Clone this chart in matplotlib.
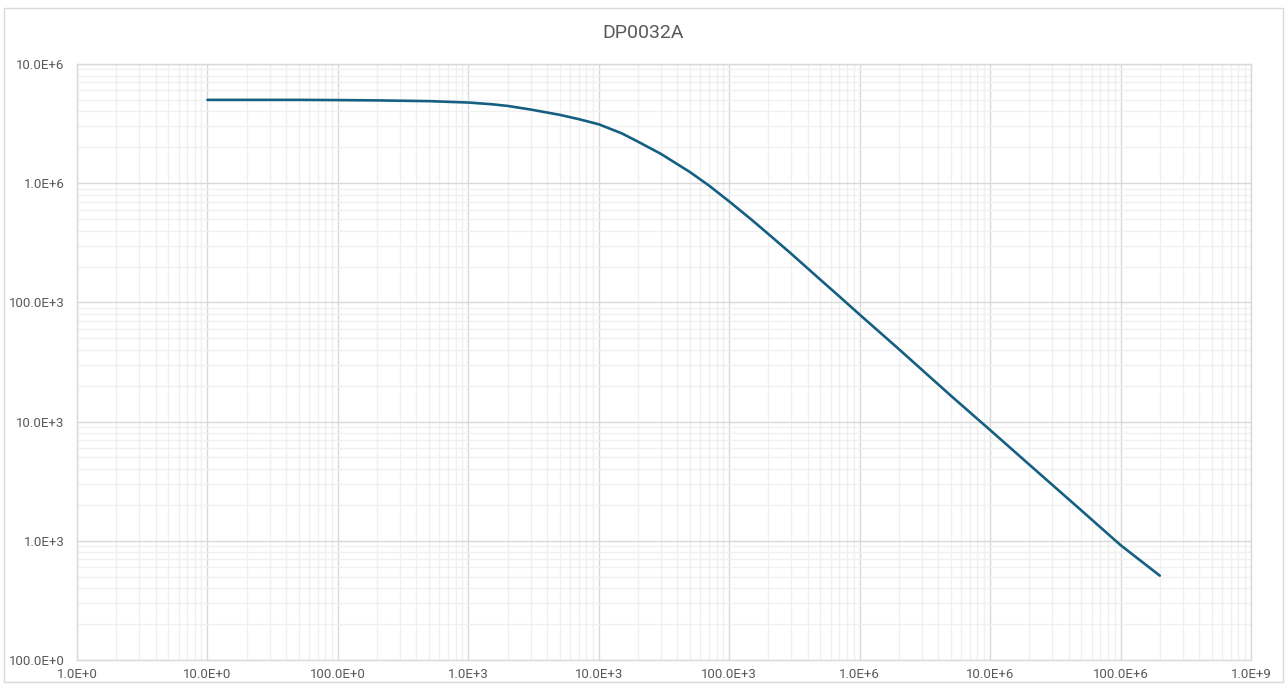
import numpy as np
import matplotlib
matplotlib.use("Agg")
import matplotlib.pyplot as plt
from matplotlib.ticker import FuncFormatter, LogLocator, NullFormatter
from matplotlib.patches import Rectangle

title = "DP0032A"
freq = [10, 20, 50, 100, 200, 500, 1e3, 1.5e3, 2e3, 3e3, 5e3, 7e3, 1e4, 1.5e4, 2e4,
        3e4, 5e4, 7e4, 1e5, 1.5e5, 2e5, 3e5, 5e5, 7e5,
        1e6, 2e6, 5e6, 1e7, 2e7, 5e7, 1e8, 2e8]
values = [5.0e6, 5.0e6, 5.0e6, 4.98e6, 4.95e6, 4.88e6, 4.75e6, 4.6e6, 4.45e6, 4.15e6,
          3.75e6, 3.45e6, 3.12e6, 2.62e6, 2.23e6, 1.76e6, 1.24e6, 9.55e5, 7.03e5, 4.89e5,
          3.74e5, 2.55e5, 1.55e5, 1.12e5,
          7.9e4, 4.05e4, 1.65e4, 8.5e3, 4.35e3, 1.8e3, 9.2e2, 5.1e2]

plt.rcParams['font.family'] = ['Roboto', 'DejaVu Sans']

def eng(v, pos=None):
    if v <= 0:
        return ""
    e = int(np.floor(np.log10(v) / 3 + 1e-9)) * 3
    m = v / 10 ** e
    return f"{m:.1f}E{e:+d}"

fig = plt.figure(figsize=(12.87, 6.90), dpi=100)
fig.patches.append(Rectangle((0.003, 0.012), 0.994, 0.976, transform=fig.transFigure,
                             fill=False, edgecolor='#d9d9d9', linewidth=1))
ax = fig.add_axes([77/1287, 1 - 660/690, (1251 - 77)/1287, (660 - 64)/690])
ax.set_xscale('log')
ax.set_yscale('log')
ax.set_xlim(1, 1e9)
ax.set_ylim(100, 1e7)
ax.plot(freq, values, color='#156082', linewidth=1.9, solid_capstyle='round',
        solid_joinstyle='round')

ax.xaxis.set_major_locator(LogLocator(base=10, numticks=20))
ax.yaxis.set_major_locator(LogLocator(base=10, numticks=20))
ax.xaxis.set_minor_locator(LogLocator(base=10, subs=np.arange(2, 10), numticks=20))
ax.yaxis.set_minor_locator(LogLocator(base=10, subs=np.arange(2, 10), numticks=20))
ax.xaxis.set_major_formatter(FuncFormatter(eng))
ax.yaxis.set_major_formatter(FuncFormatter(eng))
ax.xaxis.set_minor_formatter(NullFormatter())
ax.yaxis.set_minor_formatter(NullFormatter())

ax.grid(True, which='major', color='#d9d9d9', linewidth=1)
ax.grid(True, which='minor', color='#f0f0f0', linewidth=1)
ax.set_axisbelow(True)
for s in ax.spines.values():
    s.set_color('#d9d9d9')
    s.set_linewidth(1)
ax.tick_params(which='both', length=0, labelsize=9.5, labelcolor='#595959')
ax.tick_params(axis='x', pad=6)
ax.tick_params(axis='y', pad=9)

fig.text(0.5, 1 - 33/690, title, ha='center', va='center', fontsize=14, color='#595959')

fig.savefig('out.png', dpi=100)
